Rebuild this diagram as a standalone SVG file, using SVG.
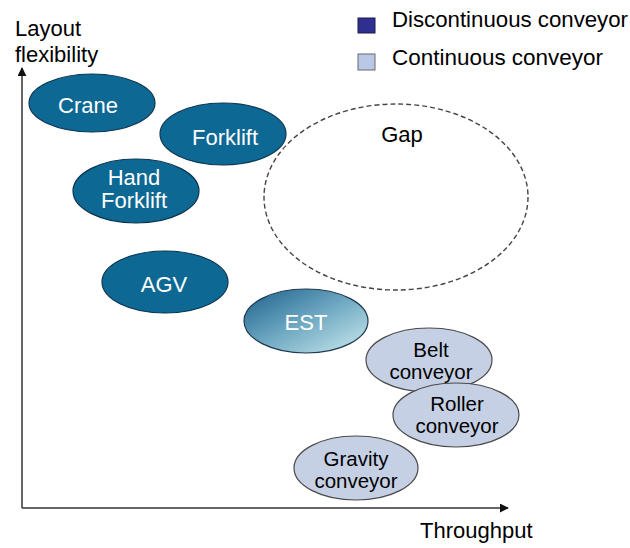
<svg xmlns="http://www.w3.org/2000/svg" width="630" height="548" viewBox="0 0 630 548">
<defs>
<style>
text{font-family:"Liberation Sans",Arial,sans-serif;font-size:22px}
.w{fill:#ffffff;text-anchor:middle}
.b{fill:#000000;text-anchor:middle}
.s{font-size:20.5px}
.lbl{fill:#000000}
.dark{fill:#0E6894;stroke:#0B3550;stroke-width:1.2}
.light{fill:#C6D0E4;stroke:#4A4A4A;stroke-width:1.2}
.axis{stroke:#333333;stroke-width:1.5;fill:none}
</style>
<linearGradient id="estg" x1="0" y1="0" x2="1" y2="1">
<stop offset="0" stop-color="#1C5F8C"/>
<stop offset="0.5" stop-color="#6FA9C2"/>
<stop offset="1" stop-color="#CDEBEE"/>
</linearGradient>
<marker id="arr" viewBox="0 0 10 10" refX="9" refY="5" markerWidth="9" markerHeight="9" markerUnits="userSpaceOnUse" orient="auto">
<path d="M0,0 L10,5 L0,10 z" fill="#111111"/>
</marker>
</defs>
<rect width="630" height="548" fill="#ffffff"/>
<g id="connectors">
<line class="axis" x1="22" y1="508" x2="22" y2="68" marker-end="url(#arr)"/>
<line class="axis" x1="22" y1="508" x2="508" y2="508" marker-end="url(#arr)"/>
</g>
<g id="axis-labels">
<text class="lbl" x="15" y="36">Layout</text>
<text class="lbl" x="15" y="62">flexibility</text>
<text class="lbl" x="420" y="538">Throughput</text>
</g>
<g id="legend">
<rect x="358" y="18" width="17" height="15" fill="#2E2F8E" stroke="#1A1A50" stroke-width="1"/>
<text class="lbl" x="392" y="27" textLength="236" lengthAdjust="spacingAndGlyphs">Discontinuous conveyor</text>
<rect x="358" y="54" width="17" height="16" fill="#B8C8E6" stroke="#6A6A6A" stroke-width="1"/>
<text class="lbl" x="392" y="65" textLength="211" lengthAdjust="spacingAndGlyphs">Continuous conveyor</text>
</g>
<g id="gap">
<ellipse cx="396" cy="197" rx="132" ry="93" fill="none" stroke="#444444" stroke-width="1.4" stroke-dasharray="5,3"/>
<text class="b" x="402" y="142">Gap</text>
</g>
<g id="crane">
<ellipse class="dark" cx="92" cy="103" rx="63" ry="29"/>
<text class="w" x="88" y="113">Crane</text>
</g>
<g id="forklift">
<ellipse class="dark" cx="223" cy="134" rx="63" ry="31"/>
<text class="w" x="225" y="145">Forklift</text>
</g>
<g id="hand-forklift">
<ellipse class="dark" cx="136" cy="191" rx="63" ry="32"/>
<text class="w" x="134" y="185">Hand</text>
<text class="w" x="134" y="208">Forklift</text>
</g>
<g id="agv">
<ellipse class="dark" cx="165" cy="282" rx="63" ry="31"/>
<text class="w" x="164" y="292">AGV</text>
</g>
<g id="est">
<ellipse cx="306" cy="321" rx="62" ry="32" fill="url(#estg)" stroke="#1E3A4E" stroke-width="1.2"/>
<text class="w" x="306" y="330">EST</text>
</g>
<g id="belt-conveyor">
<ellipse class="light" cx="429" cy="360" rx="63" ry="32"/>
<text class="b s" x="431" y="357">Belt</text>
<text class="b s" x="431" y="379">conveyor</text>
</g>
<g id="roller-conveyor">
<ellipse class="light" cx="456" cy="415" rx="63" ry="32"/>
<text class="b s" x="457" y="411">Roller</text>
<text class="b s" x="457" y="433">conveyor</text>
</g>
<g id="gravity-conveyor">
<ellipse class="light" cx="356" cy="468" rx="62" ry="32"/>
<text class="b s" x="356" y="466">Gravity</text>
<text class="b s" x="356" y="488">conveyor</text>
</g>
</svg>
